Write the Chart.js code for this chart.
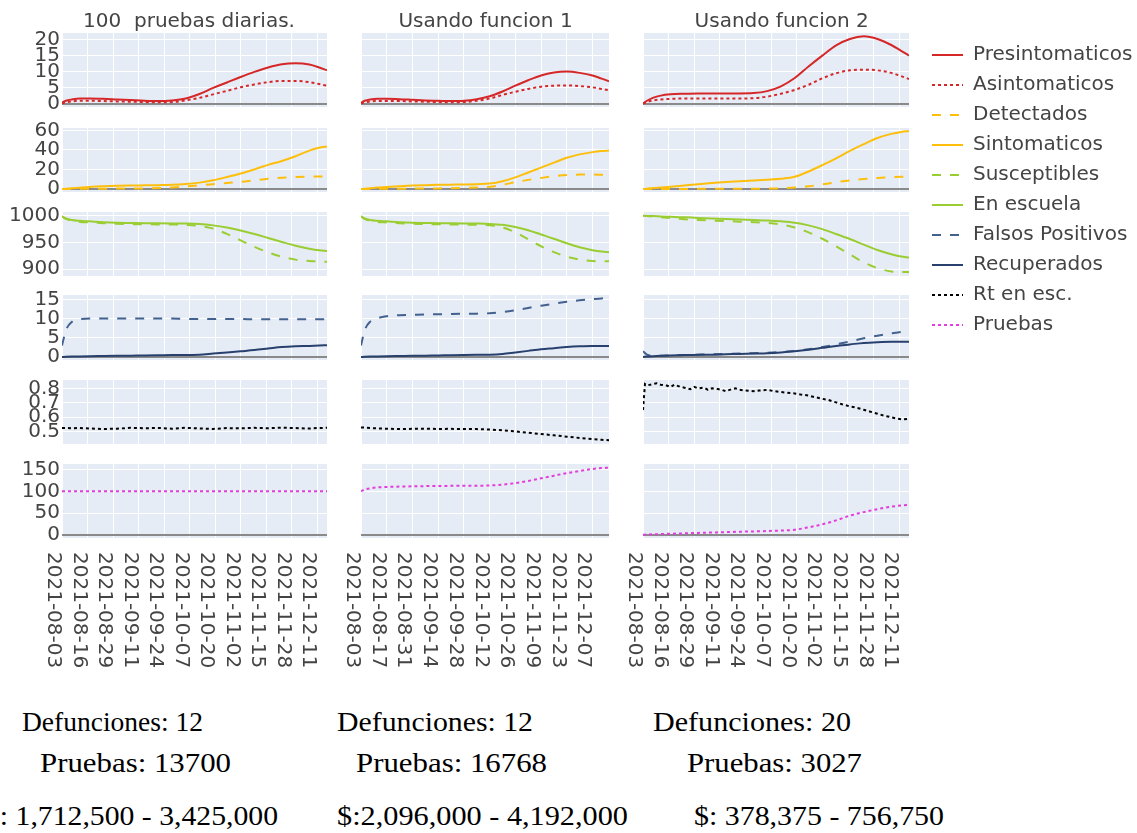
<!DOCTYPE html>
<html>
<head>
<meta charset="utf-8">
<script src="https://cdn.jsdelivr.net/npm/chart.js@4.4.1/dist/chart.umd.min.js"></script>
<style>
  html, body { margin: 0; padding: 0; background: #fff; overflow: hidden; }
  #page { position: relative; width: 1137px; height: 833px; overflow: hidden; }
  #page canvas { position: absolute; }
  .title { position: absolute; font-family: 'DejaVu Sans'; font-size: 20px; line-height: 20px; color: #444; white-space: pre; width: 400px; text-align: center; }
  .note { position: absolute; font-family: 'Liberation Serif'; font-size: 28px; line-height: 28px; color: #000; white-space: pre; }
</style>
</head>
<body>
<div id="page"></div>
<script>
// ---- sampled days (offset from 2021-08-03) ----
const days = [0, 2, 5, 9, 14, 21, 28, 35, 42, 49, 56, 63, 70, 77, 84, 91, 98, 105, 112, 119, 126, 131, 135];

// ---- date tick labels per column ----
const datesA = ['2021-08-03','2021-08-16','2021-08-29','2021-09-11','2021-09-24','2021-10-07','2021-10-20','2021-11-02','2021-11-15','2021-11-28','2021-12-11'];
const datesB = ['2021-08-03','2021-08-17','2021-08-31','2021-09-14','2021-09-28','2021-10-12','2021-10-26','2021-11-09','2021-11-23','2021-12-07'];
const datesC = ['2021-08-03','2021-08-16','2021-08-29','2021-09-11','2021-09-24','2021-10-07','2021-10-20','2021-11-02','2021-11-15','2021-11-28','2021-12-11'];

// ---- y tick values per row ----
const ticksPresin = [0, 5, 10, 15, 20];
const ticksSinto = [0, 20, 40, 60];
const ticksEsc = [900, 950, 1000];
const ticksRecup = [0, 5, 10, 15];
const ticksRt = [0.5, 0.6, 0.7, 0.8];
const ticksPruebas = [0, 50, 100, 150];

// ---- column A: 100 pruebas diarias ----
const presinA = [0.3,0.9,1.3,1.6,1.6,1.5,1.3,1.1,0.9,0.8,1.0,1.6,3.0,4.9,6.6,8.3,9.9,11.3,12.3,12.6,12.2,11.3,10.4];
const asinA   = [0.1,0.4,0.7,0.9,0.9,0.8,0.7,0.6,0.5,0.4,0.5,1.0,1.8,2.9,4.0,5.1,6.0,6.7,7.1,7.1,6.7,6.1,5.6];
const detecA  = [0,0.05,0.1,0.2,0.3,0.4,0.5,0.6,0.7,1.0,1.6,2.6,3.8,5.0,6.2,7.3,9.0,10.6,11.7,12.3,12.7,12.9,12.9];
const sintoA  = [0,0.3,0.8,1.4,2.1,2.8,3.3,3.6,3.8,4.0,4.3,5.1,6.6,9.0,12.3,15.9,20.2,24.8,28.8,33.6,39.3,42.2,43.7];
const suscA   = [999,994,990.5,988.5,987.5,986,985,984.5,984,983.8,983.5,983,981,976,966,954,942,931.5,923.5,918,915.5,914.5,914];
const escA    = [999,995,992,990.5,989.5,988,987,986.5,986,985.8,985.6,985.4,984.5,982,978,972.5,966,958.5,951,944,938.5,935.5,934];
const falsosA = [3.0,7.0,9.2,9.9,10.1,10.1,10.1,10.1,10.1,10.1,10.1,10.0,10.0,10.0,10.0,10.0,9.9,9.9,9.9,9.9,9.9,9.9,9.9];
const recupA  = [0,0.05,0.1,0.15,0.2,0.25,0.3,0.35,0.4,0.45,0.5,0.5,0.6,0.9,1.2,1.5,1.8,2.2,2.6,2.8,2.9,3.0,3.1];
const rtA     = [0.525,0.527,0.523,0.526,0.522,0.519,0.521,0.527,0.524,0.526,0.521,0.527,0.523,0.519,0.525,0.523,0.527,0.524,0.528,0.525,0.522,0.526,0.527];
const pruebasA = [100,100,100,100,100,100,100,100,100,100,100,100,100,100,100,100,100,100,100,100,100,100,100];

// ---- column B: Usando funcion 1 ----
const presinB = [0.3,0.9,1.3,1.5,1.5,1.4,1.2,1.0,0.9,0.8,0.9,1.4,2.3,3.8,5.6,7.3,8.8,9.7,10.0,9.6,8.8,7.8,7.0];
const asinB   = [0.1,0.4,0.7,0.8,0.8,0.8,0.7,0.6,0.5,0.4,0.5,0.9,1.6,2.7,3.7,4.6,5.3,5.6,5.7,5.5,5.1,4.6,4.2];
const detecB  = [0,0.05,0.1,0.2,0.3,0.4,0.5,0.6,0.7,0.9,1.2,1.6,2.3,4.3,7.0,9.4,11.4,13.2,14.4,14.8,14.8,14.6,14.5];
const sintoB  = [0,0.4,0.9,1.5,2.2,3.0,3.6,4.0,4.3,4.5,4.7,5.0,5.6,8.0,12.0,17.0,22.0,27.0,32.0,35.5,37.8,38.9,39.4];
const suscB   = [999,994,990.5,988.5,987.5,986,985,984.5,984,983.8,983.5,983,982,978,969,956,943,932,923.5,918,915.5,915,915];
const escB    = [999,995,992,990.5,989.5,988,987,986.5,986,985.8,985.6,985.4,984.8,983,979,973,965,957,948.5,941,935.5,933,932];
const falsosB = [3.0,7.0,9.3,10.2,10.7,11.0,11.1,11.2,11.25,11.3,11.35,11.4,11.5,11.8,12.3,12.9,13.5,14.0,14.5,14.9,15.2,15.4,15.5];
const recupB  = [0,0.05,0.1,0.15,0.2,0.25,0.3,0.35,0.4,0.45,0.5,0.55,0.6,0.8,1.2,1.6,2.0,2.3,2.6,2.8,2.9,2.9,2.9];
const rtB     = [0.530,0.528,0.525,0.523,0.521,0.518,0.520,0.521,0.519,0.520,0.518,0.518,0.515,0.510,0.502,0.493,0.484,0.475,0.466,0.457,0.449,0.444,0.441];
const pruebasB = [100,104,107,109,110,111,111.5,112,112.3,112.6,112.8,113,113.5,115.5,119,124,130,136,142,147,151.5,153.5,154.5];

// ---- column C: Usando funcion 2 ----
const presinC = [0,0.9,1.8,2.5,2.9,3.1,3.2,3.2,3.2,3.2,3.3,3.9,5.4,8.0,11.6,15.0,18.2,20.2,21.0,20.2,18.3,16.5,15.0];
const asinC   = [0,0.5,1.0,1.3,1.5,1.6,1.6,1.6,1.6,1.6,1.7,2.2,3.1,4.3,5.9,7.9,9.5,10.4,10.6,10.4,9.6,8.6,7.7];
const detecC  = [0,0.02,0.05,0.08,0.1,0.15,0.2,0.25,0.3,0.35,0.4,0.5,0.8,1.5,2.8,4.8,7.0,8.8,10.2,11.3,12.1,12.6,12.9];
const sintoC  = [0,0.4,1.0,1.6,2.4,3.7,5.0,6.2,7.2,8.0,8.8,9.6,10.6,12.6,18.0,24.5,31.5,39.0,46.0,52.3,56.5,58.5,59.5];
const suscC   = [1000,999.3,998.3,997,995.5,993.5,992,991,990,989,988,986.5,983.5,978,969,957,943,928,913,902,896,895,895];
const escC    = [1000,999.7,999.3,998.7,998,997,996,995,994,993,992,991,989.5,987,982,975,966,956.5,946,936,928,924,922];
const falsosC = [1.5,0.6,0.3,0.3,0.4,0.5,0.6,0.7,0.8,0.9,1.0,1.1,1.3,1.6,2.0,2.6,3.3,4.1,4.9,5.6,6.2,6.6,6.8];
const recupC  = [0,0.1,0.2,0.3,0.4,0.5,0.55,0.6,0.7,0.8,0.9,1.0,1.2,1.5,1.9,2.4,2.9,3.3,3.7,3.9,4.0,4.0,4.0];
const rtDaysC = [0,1,2,5,7,9,12,14,16,19,21,24,26,28,31,33,35,38,40,42,45,47,49,52,56,59,63,66,70,73,77,80,84,87,91,94,98,101,105,108,112,115,119,122,126,129,132,135];
const rtC     = [0.65,0.83,0.82,0.83,0.835,0.825,0.82,0.81,0.825,0.81,0.805,0.795,0.81,0.80,0.805,0.79,0.80,0.795,0.79,0.78,0.795,0.80,0.79,0.785,0.78,0.785,0.79,0.782,0.775,0.77,0.765,0.758,0.75,0.74,0.728,0.72,0.703,0.69,0.675,0.668,0.652,0.64,0.625,0.612,0.60,0.59,0.585,0.59];
const pruebasC = [0,0.5,1.0,1.5,2.2,3.2,4.1,5.0,5.9,6.8,7.6,8.5,9.6,11.5,17,24,33,44,52,59,64.5,67.5,69];

// ---- texts ----
const colTitles = ['100  pruebas diarias.', 'Usando funcion 1', 'Usando funcion 2'];
const defunciones = [12, 12, 20];
const pruebasTot = [13700, 16768, 3027];
const costos = ['$: 1,712,500 - 3,425,000', '$:2,096,000 - 4,192,000', '$: 378,375 - 756,750'];

// ---- series appearance ----
const seriesStyle = {
  'Presintomaticos':   { color: '#d62728', dash: [] },
  'Asintomaticos':     { color: '#d62728', dash: [3, 3] },
  'Detectados':        { color: '#fdbf0c', dash: [9, 9] },
  'Sintomaticos':      { color: '#fdbf0c', dash: [] },
  'Susceptibles':      { color: '#9acd32', dash: [9, 9] },
  'En escuela':        { color: '#9acd32', dash: [] },
  'Falsos Positivos':  { color: '#43618f', dash: [9, 9] },
  'Recuperados':       { color: '#27406d', dash: [] },
  'Rt en esc.':        { color: '#000000', dash: [3, 3] },
  'Pruebas':           { color: '#e33ddb', dash: [3, 3] }
};
const legendOrder = Object.keys(seriesStyle);

// values of each series, one array per column
const seriesValues = {
  'Presintomaticos':  [presinA, presinB, presinC],
  'Asintomaticos':    [asinA, asinB, asinC],
  'Detectados':       [detecA, detecB, detecC],
  'Sintomaticos':     [sintoA, sintoB, sintoC],
  'Susceptibles':     [suscA, suscB, suscC],
  'En escuela':       [escA, escB, escC],
  'Falsos Positivos': [falsosA, falsosB, falsosC],
  'Recuperados':      [recupA, recupB, recupC],
  'Rt en esc.':       [rtA, rtB, rtC],
  'Pruebas':          [pruebasA, pruebasB, pruebasC]
};
const seriesDays = { 'Rt en esc.': [days, days, rtDaysC] };

// ---- grid of subplots ----
const rowsLayout = [
  { names: ['Presintomaticos', 'Asintomaticos'], ticks: ticksPresin, min: -1.05, max: 22.05, top: 33, height: 74 },
  { names: ['Detectados', 'Sintomaticos'],       ticks: ticksSinto,  min: -3,    max: 62.5,  top: 128, height: 64 },
  { names: ['Susceptibles', 'En escuela'],       ticks: ticksEsc,    min: 887.4, max: 1007,  top: 212, height: 64 },
  { names: ['Falsos Positivos', 'Recuperados'],  ticks: ticksRecup,  min: -0.8,  max: 16.3,  top: 295, height: 65 },
  { names: ['Rt en esc.'],                       ticks: ticksRt,     min: 0.415, max: 0.858, top: 380, height: 64 },
  { names: ['Pruebas'],                          ticks: ticksPruebas,min: -7.6,  max: 163,   top: 464, height: 74 }
];
const colsLayout = [
  { left: 62,  width: 265, axisW: 62, titleX: 189,   dates: datesA },
  { left: 361, width: 248, axisW: 20, titleX: 485.5, dates: datesB },
  { left: 643, width: 266, axisW: 20, titleX: 781.7, dates: datesC }
];
const X_MAX = 135;
const LABEL_SPACE = 140;
const PAD = 12;

const START = Date.UTC(2021, 7, 3);
function dayOf(s) {
  const [y, m, d] = s.split('-').map(Number);
  return Math.round((Date.UTC(y, m - 1, d) - START) / 86400000);
}

const FONT = 'DejaVu Sans';
const TEXT = '#444444';

// plot-area background
const plotBg = {
  id: 'plotBg',
  beforeDraw(chart) {
    const a = chart.chartArea;
    if (!a) return;
    const ctx = chart.ctx;
    ctx.save();
    ctx.fillStyle = '#e5ecf6';
    ctx.fillRect(a.left, a.top, a.right - a.left, a.bottom - a.top);
    ctx.restore();
  }
};

// vertical date labels under the bottom row
const dateLabels = {
  id: 'dateLabels',
  afterDraw(chart, args, opts) {
    if (!opts || !opts.labels) return;
    const ctx = chart.ctx;
    const sx = chart.scales.x;
    ctx.save();
    ctx.font = '20px "' + FONT + '"';
    ctx.fillStyle = TEXT;
    ctx.textAlign = 'left';
    ctx.textBaseline = 'alphabetic';
    opts.labels.forEach((lab) => {
      const px = sx.getPixelForValue(dayOf(lab));
      ctx.save();
      ctx.translate(px, chart.chartArea.bottom + 14);
      ctx.rotate(Math.PI / 2);
      ctx.fillText(lab, 0, 14);
      ctx.restore();
    });
    ctx.restore();
  }
};

// keep the plot area at the exact layout edges
function noScalePadding(s) {
  s.paddingTop = 0; s.paddingBottom = 0; s.paddingLeft = 0; s.paddingRight = 0;
}

const page = document.getElementById('page');

function addCanvas(left, top, w, h) {
  const c = document.createElement('canvas');
  c.width = w; c.height = h;
  c.style.left = left + 'px'; c.style.top = top + 'px';
  c.style.width = w + 'px'; c.style.height = h + 'px';
  page.appendChild(c);
  return c;
}

rowsLayout.forEach((row, ri) => {
  const lastRow = ri === rowsLayout.length - 1;
  colsLayout.forEach((col, ci) => {
    const padBottom = lastRow ? 0 : PAD;
    const h = PAD + row.height + padBottom + (lastRow ? LABEL_SPACE : 0);
    const canvas = addCanvas(col.left - col.axisW, row.top - PAD, col.width + col.axisW, h);
    const datasets = row.names.map((name) => {
      const st = seriesStyle[name];
      const xs = (seriesDays[name] || [days, days, days])[ci];
      const ys = seriesValues[name][ci];
      return {
        label: name,
        data: ys.map((v, i) => ({ x: xs[i], y: v })),
        borderColor: st.color,
        backgroundColor: st.color,
        borderDash: st.dash,
        borderWidth: 2,
        pointRadius: 0,
        fill: false,
        tension: 0,
        cubicInterpolationMode: name === 'Rt en esc.' ? 'default' : 'monotone',
        order: -legendOrder.indexOf(name)
      };
    });
    const tickDays = col.dates.map(dayOf);
    new Chart(canvas, {
      type: 'line',
      data: { datasets },
      options: {
        animation: false,
        responsive: false,
        devicePixelRatio: 1,
        events: [],
        layout: { padding: { top: PAD, bottom: padBottom, left: 0, right: 0 } },
        plugins: {
          legend: { display: false },
          tooltip: { enabled: false },
          dateLabels: lastRow ? { labels: col.dates } : {}
        },
        scales: {
          x: {
            type: 'linear', min: 0, max: X_MAX,
            afterBuildTicks: (s) => { s.ticks = tickDays.map((v) => ({ value: v })); },
            afterFit: (s) => { s.height = lastRow ? LABEL_SPACE : 0; noScalePadding(s); },
            ticks: { display: false },
            grid: { color: '#ffffff', lineWidth: 1, drawTicks: false },
            border: { display: false }
          },
          y: {
            type: 'linear', min: row.min, max: row.max,
            afterBuildTicks: (s) => { s.ticks = row.ticks.map((v) => ({ value: v })); },
            afterFit: (s) => { s.width = col.axisW; noScalePadding(s); },
            ticks: {
              display: ci === 0,
              autoSkip: false,
              font: { family: FONT, size: 20 },
              color: TEXT,
              padding: 2,
              callback: (v) => String(v)
            },
            grid: {
              color: (c) => (c.tick && c.tick.value === 0 ? '#8a8a8a' : '#ffffff'),
              lineWidth: (c) => (c.tick && c.tick.value === 0 ? 2 : 1),
              drawTicks: false
            },
            border: { display: false }
          }
        }
      },
      plugins: [plotBg, dateLabels]
    });
  });
});

// legend: one line sample per series, keeping each series' dash pattern
const legendCanvas = addCanvas(922, 35, 440, 330);
new Chart(legendCanvas, {
  type: 'line',
  data: {
    datasets: legendOrder.map((name) => ({
      label: name,
      data: [],
      borderColor: seriesStyle[name].color,
      backgroundColor: seriesStyle[name].color,
      borderDash: seriesStyle[name].dash,
      borderWidth: 2
    }))
  },
  options: {
    animation: false,
    responsive: false,
    devicePixelRatio: 1,
    events: [],
    layout: { padding: 0 },
    scales: { x: { display: false }, y: { display: false } },
    plugins: {
      tooltip: { enabled: false },
      legend: {
        position: 'left',
        align: 'start',
        maxWidth: 220,
        labels: {
          usePointStyle: true,
          pointStyle: 'line',
          pointStyleWidth: 31,
          boxHeight: 20,
          padding: 10,
          color: TEXT,
          font: { family: FONT, size: 20 },
          generateLabels: (chart) => {
            const base = Chart.defaults.plugins.legend.labels.generateLabels(chart);
            return base.map((item) => {
              const ds = chart.data.datasets[item.datasetIndex];
              return Object.assign(item, {
                strokeStyle: ds.borderColor,
                fillStyle: ds.borderColor,
                lineDash: ds.borderDash,
                lineWidth: ds.borderWidth,
                pointStyle: 'line'
              });
            });
          }
        }
      }
    }
  }
});

// column titles
colsLayout.forEach((col, ci) => {
  const d = document.createElement('div');
  d.className = 'title';
  d.textContent = colTitles[ci];
  d.style.left = (col.titleX - 200) + 'px';
  d.style.top = '10px';
  page.appendChild(d);
});

// summary lines under each column: [left, right] extent of each line
const noteSpans = [
  { def: [22, 203],  pru: [40, 231],  cost: [-15, 278] },
  { def: [337, 533], pru: [356, 547], cost: [337, 628] },
  { def: [653, 851], pru: [687, 862], cost: [694, 944] }
];
function addNote(text, span, top) {
  const d = document.createElement('div');
  d.className = 'note';
  d.textContent = text;
  d.style.top = top + 'px';
  d.style.left = span[0] + 'px';
  d.style.transformOrigin = '0 0';
  page.appendChild(d);
  const w = d.getBoundingClientRect().width;
  if (w > 0) d.style.transform = 'scaleX(' + ((span[1] - span[0]) / w).toFixed(4) + ')';
}
colsLayout.forEach((col, ci) => {
  addNote('Defunciones: ' + defunciones[ci], noteSpans[ci].def, 708);
  addNote('Pruebas: ' + pruebasTot[ci], noteSpans[ci].pru, 749);
  addNote(costos[ci], noteSpans[ci].cost, 802);
});
</script>
</body>
</html>
